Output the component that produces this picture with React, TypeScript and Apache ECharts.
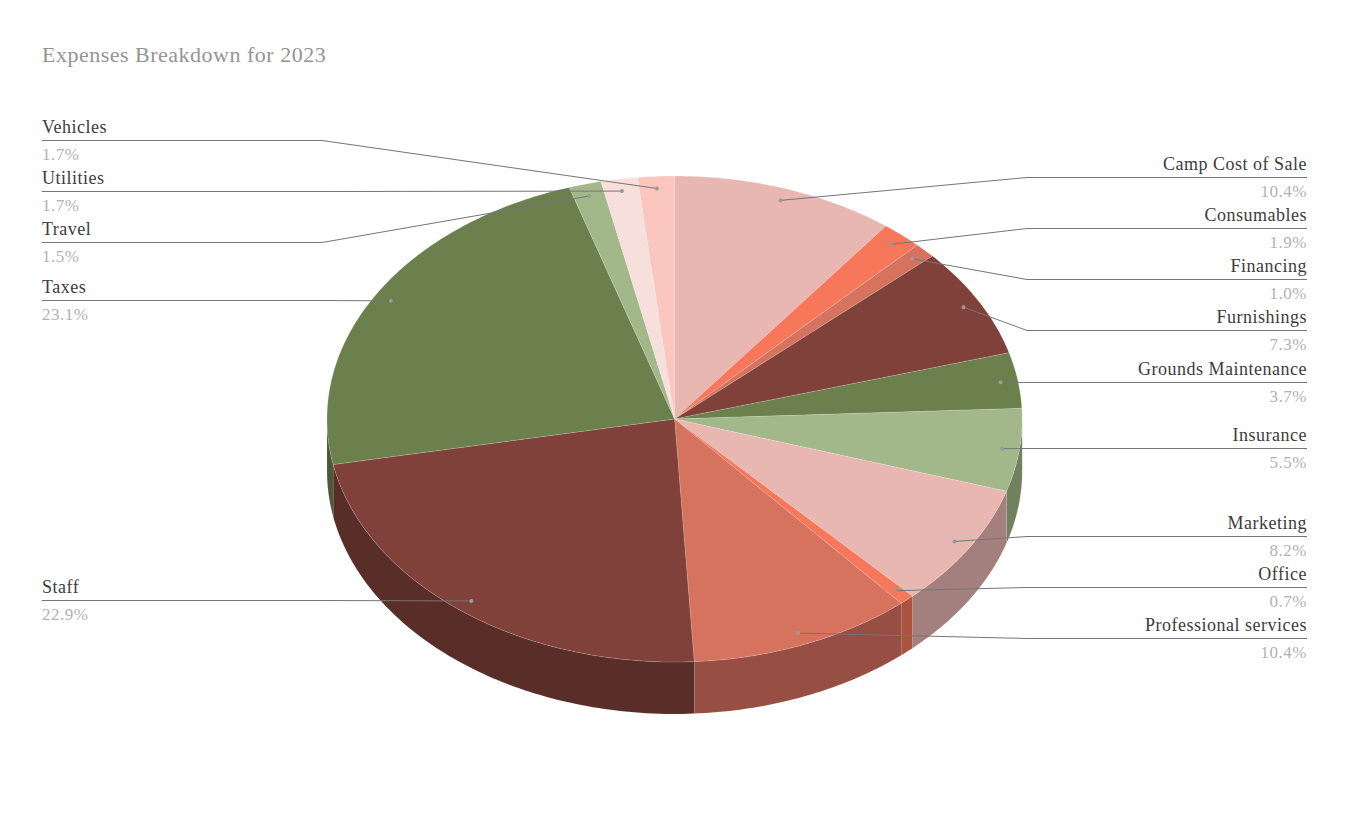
import React, { useEffect, useRef } from "react";
import * as echarts from "echarts";

const categories = [
  "Camp Cost of Sale", "Consumables", "Financing", "Furnishings", "Grounds Maintenance",
  "Insurance", "Marketing", "Office", "Professional services", "Staff", "Taxes",
  "Travel", "Utilities", "Vehicles",
];
const shares = [10.4, 1.9, 1.0, 7.3, 3.7, 5.5, 8.2, 0.7, 10.4, 22.9, 23.1, 1.5, 1.7, 1.7];
const palette = [
  "#E9B7B2", "#F6775A", "#D6735E", "#7F413A", "#6B804D", "#A2B78A", "#E9B7B2",
  "#F6775A", "#D6735E", "#7F413A", "#6B804D", "#A2B78A", "#F7DFDC", "#FBC6BE",
];
const sideColors = [
  "#A3807D", "#AC533F", "#964F42", "#592D28", "#4B5936", "#71805F", "#A3807D",
  "#AC533F", "#964F42", "#592D28", "#4B5936", "#71805F", "#ADA09A", "#B08A85",
];
const leaderY = [177, 228, 279, 330, 382, 448, 536, 587, 638, 600, 300, 242, 191, 140];
const leftSide = [false, false, false, false, false, false, false, false, false, true, true, true, true, true];

const CX = 674.6, CY = 419, RX = 347.6, RY = 243, DEPTH = 52;
const total = shares.reduce((a, b) => a + b, 0);
const FONT = "'Liberation Serif', serif";

const startOf = (i: number) => shares.slice(0, i).reduce((a, b) => a + b, 0) / total * Math.PI * 2;
const pt = (a: number, f = 1, dy = 0): number[] => [
  CX + RX * f * Math.sin(a),
  CY - RY * f * Math.cos(a) + dy,
];
const arc = (a0: number, a1: number, dy = 0) => {
  const out: number[][] = [];
  const n = Math.max(2, Math.ceil(((a1 - a0) * 180) / Math.PI));
  for (let k = 0; k <= n; k++) out.push(pt(a0 + ((a1 - a0) * k) / n, 1, dy));
  return out;
};

export default function App() {
  const ref = useRef<HTMLDivElement>(null);
  useEffect(() => {
    const chart = echarts.init(ref.current!, null, { renderer: "svg" });
    const data = categories.map((name, i) => ({ name, value: shares[i] }));
    chart.setOption({
      animation: false,
      backgroundColor: "#ffffff",
      title: {
        text: "Expenses Breakdown for 2023",
        left: 42,
        top: 43,
        padding: 0,
        textStyle: { fontFamily: FONT, fontSize: 22, fontWeight: "normal", color: "#949494" },
      },
      series: [
        {
          type: "custom",
          name: "sides",
          coordinateSystem: "none",
          silent: true,
          data,
          renderItem: (p: any) => {
            const i = p.dataIndex;
            const a0 = Math.max(startOf(i), Math.PI / 2);
            const a1 = Math.min(startOf(i + 1), (Math.PI * 3) / 2);
            if (a1 <= a0) return { type: "group", children: [] };
            const pts = [...arc(a0, a1), ...arc(a0, a1, DEPTH).reverse()];
            return {
              type: "polygon",
              shape: { points: pts },
              style: { fill: sideColors[i], stroke: "rgba(255,255,255,0.15)", lineWidth: 0.5 },
            };
          },
        },
        {
          type: "custom",
          name: "tops",
          coordinateSystem: "none",
          silent: true,
          data,
          renderItem: (p: any) => {
            const i = p.dataIndex;
            const pts = [[CX, CY], ...arc(startOf(i), startOf(i + 1))];
            return {
              type: "polygon",
              shape: { points: pts },
              style: { fill: palette[i], stroke: "rgba(255,255,255,0.3)", lineWidth: 0.5 },
            };
          },
        },
        {
          type: "custom",
          name: "labels",
          coordinateSystem: "none",
          silent: true,
          data,
          renderItem: (p: any) => {
            const i = p.dataIndex;
            const left = leftSide[i];
            const y = leaderY[i];
            const a = (startOf(i) + startOf(i + 1)) / 2;
            const anchor = pt(a, 0.95);
            const edge = left ? 42 : 1307;
            const elbow = left ? 322 : 1027;
            return {
              type: "group",
              children: [
                {
                  type: "polyline",
                  shape: { points: [anchor, [elbow, y + 0.5], [edge, y + 0.5]] },
                  style: { fill: "none", stroke: "#757575", lineWidth: 1 },
                },
                {
                  type: "circle",
                  shape: { cx: anchor[0], cy: anchor[1], r: 2 },
                  style: { fill: "#9A9A9A" },
                },
                {
                  type: "text",
                  style: {
                    x: edge, y: y - 13, text: categories[i],
                    textAlign: left ? "left" : "right", textVerticalAlign: "middle",
                    fontFamily: FONT, fontSize: 18, fill: "#3C3C3C",
                  },
                },
                {
                  type: "text",
                  style: {
                    x: edge, y: y + 14, text: shares[i].toFixed(1) + "%",
                    textAlign: left ? "left" : "right", textVerticalAlign: "middle",
                    fontFamily: FONT, fontSize: 17, fill: "#B2B2B2",
                  },
                },
              ],
            };
          },
        },
      ],
    });
    return () => chart.dispose();
  }, []);
  return (
    <div
      ref={ref}
      style={{ position: "absolute", left: 0, top: 0, width: 1349, height: 834, letterSpacing: "0.5px" }}
    />
  );
}
